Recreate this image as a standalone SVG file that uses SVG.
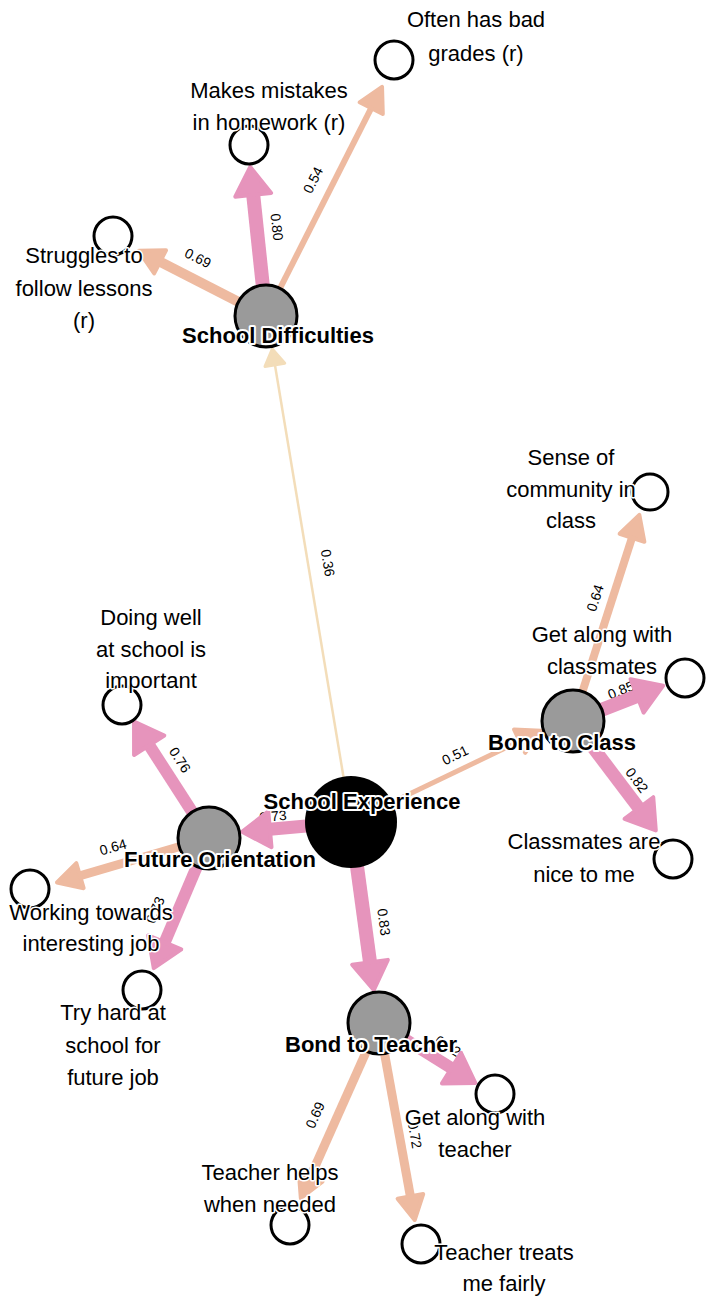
<svg xmlns="http://www.w3.org/2000/svg" width="717" height="1297" viewBox="0 0 717 1297">
<style>
.pk{stroke:#E694BC;fill:none;marker-end:url(#hp)}
.pc{stroke:#EEBAA0;fill:none;marker-end:url(#hc)}
.bg{stroke:#F3DDB9;fill:none;marker-end:url(#hb)}
.el{font-family:"Liberation Sans",Arial,sans-serif;font-size:14px;fill:#000;text-anchor:middle;dominant-baseline:central}
.lat{fill:#9A9A9A;stroke:#000;stroke-width:3}
.ind{fill:#fff;stroke:#000;stroke-width:3}
.lb{font-family:"Liberation Sans",Arial,sans-serif;font-size:22px;fill:#000;text-anchor:middle;stroke:#fff;stroke-width:3;paint-order:stroke;stroke-linejoin:round}
.bl{font-family:"Liberation Sans",Arial,sans-serif;font-size:22px;font-weight:bold;fill:#000;text-anchor:middle;stroke:#fff;stroke-width:4;paint-order:stroke;stroke-linejoin:round}
</style>
<defs>
<marker id="hp" markerUnits="userSpaceOnUse" viewBox="-3 -21 34 42" markerWidth="34" markerHeight="42" refX="0" refY="0" orient="auto">
<path d="M0,-18 L28,0 L0,18 Z" fill="#E694BC" stroke="#E694BC" stroke-width="4" stroke-linejoin="round"/>
</marker>
<marker id="hc" markerUnits="userSpaceOnUse" viewBox="-3 -16 30 32" markerWidth="30" markerHeight="32" refX="0" refY="0" orient="auto">
<path d="M0,-13 L24,0 L0,13 Z" fill="#EEBAA0" stroke="#EEBAA0" stroke-width="4" stroke-linejoin="round"/>
</marker>
<marker id="hb" markerUnits="userSpaceOnUse" viewBox="-3 -13 22 26" markerWidth="22" markerHeight="26" refX="0" refY="0" orient="auto">
<path d="M0,-10 L16,0 L0,10 Z" fill="#F3DDB9" stroke="#F3DDB9" stroke-width="3" stroke-linejoin="round"/>
</marker>
</defs>
<rect width="717" height="1297" fill="#fff"/>
<g id="connectors">
<text class="el" transform="translate(328,563) rotate(80.6)">0.36</text>
<text class="el" transform="translate(277,227) rotate(84)">0.80</text>
<text class="el" transform="translate(198,258) rotate(27)">0.69</text>
<text class="el" transform="translate(313,180) rotate(-63)">0.54</text>
<text class="el" transform="translate(273,816) rotate(-5)">0.73</text>
<text class="el" transform="translate(180,760) rotate(57)">0.76</text>
<text class="el" transform="translate(113,847) rotate(-16)">0.64</text>
<text class="el" transform="translate(155,910) rotate(-67)">0.73</text>
<text class="el" transform="translate(455,755) rotate(-26)">0.51</text>
<text class="el" transform="translate(595,598) rotate(-72)">0.64</text>
<text class="el" transform="translate(621,690) rotate(-22)">0.85</text>
<text class="el" transform="translate(637,780) rotate(53)">0.82</text>
<text class="el" transform="translate(384,922) rotate(82)">0.83</text>
<text class="el" transform="translate(448,1046) rotate(32)">0.82</text>
<text class="el" transform="translate(315,1115) rotate(-66)">0.69</text>
<text class="el" transform="translate(415,1135) rotate(80)">0.72</text>
<line class="bg" x1="351" y1="822" x2="274.9" y2="364.8" stroke-width="2.5"/>
<line class="pk" x1="266" y1="316" x2="253.2" y2="194.8" stroke-width="14"/>
<line class="pc" x1="266" y1="316" x2="160.1" y2="261.8" stroke-width="10"/>
<line class="pc" x1="266" y1="316" x2="371.2" y2="108.2" stroke-width="6"/>
<line class="pk" x1="351" y1="822" x2="269.9" y2="829.3" stroke-width="13"/>
<line class="pk" x1="209" y1="838" x2="149.2" y2="745.2" stroke-width="12"/>
<line class="pc" x1="209" y1="838" x2="80" y2="875.7" stroke-width="9"/>
<line class="pk" x1="209" y1="838" x2="164.7" y2="942.4" stroke-width="12"/>
<line class="pc" x1="351" y1="822" x2="519.6" y2="741.2" stroke-width="5"/>
<line class="pc" x1="573" y1="721" x2="632" y2="537.8" stroke-width="8"/>
<line class="pk" x1="573" y1="721" x2="637.1" y2="695.9" stroke-width="14"/>
<line class="pk" x1="573" y1="721" x2="638.9" y2="808.1" stroke-width="13"/>
<line class="pk" x1="351" y1="822" x2="370" y2="962.3" stroke-width="14"/>
<line class="pk" x1="379" y1="1023" x2="451.5" y2="1068.1" stroke-width="12"/>
<line class="pc" x1="379" y1="1023" x2="310.6" y2="1176.3" stroke-width="9"/>
<line class="pc" x1="379" y1="1023" x2="410.4" y2="1196.4" stroke-width="9"/>
</g>
<g id="school-experience">
<circle cx="351" cy="822" r="46" fill="#000"/>
<text class="bl" x="362" y="809">School Experience</text>
</g>
<g id="future-orientation">
<circle class="lat" cx="209" cy="838" r="31"/>
<text class="bl" x="220" y="867">Future Orientation</text>
</g>
<g id="school-difficulties">
<circle class="lat" cx="266" cy="316" r="31"/>
<text class="bl" x="278" y="343">School Difficulties</text>
</g>
<g id="bond-to-class">
<circle class="lat" cx="573" cy="721" r="31"/>
<text class="bl" x="562" y="750">Bond to Class</text>
</g>
<g id="bond-to-teacher">
<circle class="lat" cx="379" cy="1023" r="31"/>
<text class="bl" x="371" y="1052">Bond to Teacher</text>
</g>
<g id="often-bad-grades">
<circle class="ind" cx="394" cy="60" r="19"/>
<text class="lb"><tspan x="476" y="27">Often has bad</tspan><tspan x="476" y="61">grades (r)</tspan></text>
</g>
<g id="makes-mistakes">
<circle class="ind" cx="249" cy="145" r="19"/>
<text class="lb"><tspan x="269" y="98">Makes mistakes</tspan><tspan x="269" y="130">in homework (r)</tspan></text>
</g>
<g id="struggles">
<circle class="ind" cx="113" cy="236" r="19"/>
<text class="lb"><tspan x="84" y="263">Struggles to</tspan><tspan x="84" y="296">follow lessons</tspan><tspan x="84" y="328">(r)</tspan></text>
</g>
<g id="sense-of-community">
<circle class="ind" cx="650" cy="492" r="18"/>
<text class="lb"><tspan x="571" y="465">Sense of</tspan><tspan x="571" y="497">community in</tspan><tspan x="571" y="528">class</tspan></text>
</g>
<g id="get-along-classmates">
<circle class="ind" cx="685" cy="678" r="19"/>
<text class="lb"><tspan x="602" y="642">Get along with</tspan><tspan x="602" y="674">classmates</tspan></text>
</g>
<g id="classmates-nice">
<circle class="ind" cx="673" cy="859" r="19"/>
<text class="lb"><tspan x="584" y="849">Classmates are</tspan><tspan x="584" y="882">nice to me</tspan></text>
</g>
<g id="doing-well">
<circle class="ind" cx="122" cy="705" r="19"/>
<text class="lb"><tspan x="151" y="625">Doing well</tspan><tspan x="151" y="657">at school is</tspan><tspan x="151" y="688">important</tspan></text>
</g>
<g id="working-towards">
<circle class="ind" cx="30" cy="889" r="19"/>
<text class="lb"><tspan x="91" y="920">Working towards</tspan><tspan x="91" y="951">interesting job</tspan></text>
</g>
<g id="try-hard">
<circle class="ind" cx="142" cy="990" r="19"/>
<text class="lb"><tspan x="113" y="1020">Try hard at</tspan><tspan x="113" y="1053">school for</tspan><tspan x="113" y="1085">future job</tspan></text>
</g>
<g id="get-along-teacher">
<circle class="ind" cx="495" cy="1094" r="19"/>
<text class="lb"><tspan x="475" y="1125">Get along with</tspan><tspan x="475" y="1157">teacher</tspan></text>
</g>
<g id="teacher-helps">
<circle class="ind" cx="290" cy="1225" r="19"/>
<text class="lb"><tspan x="270" y="1180">Teacher helps</tspan><tspan x="270" y="1212">when needed</tspan></text>
</g>
<g id="teacher-treats">
<circle class="ind" cx="421" cy="1244" r="19"/>
<text class="lb"><tspan x="504" y="1260">Teacher treats</tspan><tspan x="504" y="1291">me fairly</tspan></text>
</g>
</svg>
